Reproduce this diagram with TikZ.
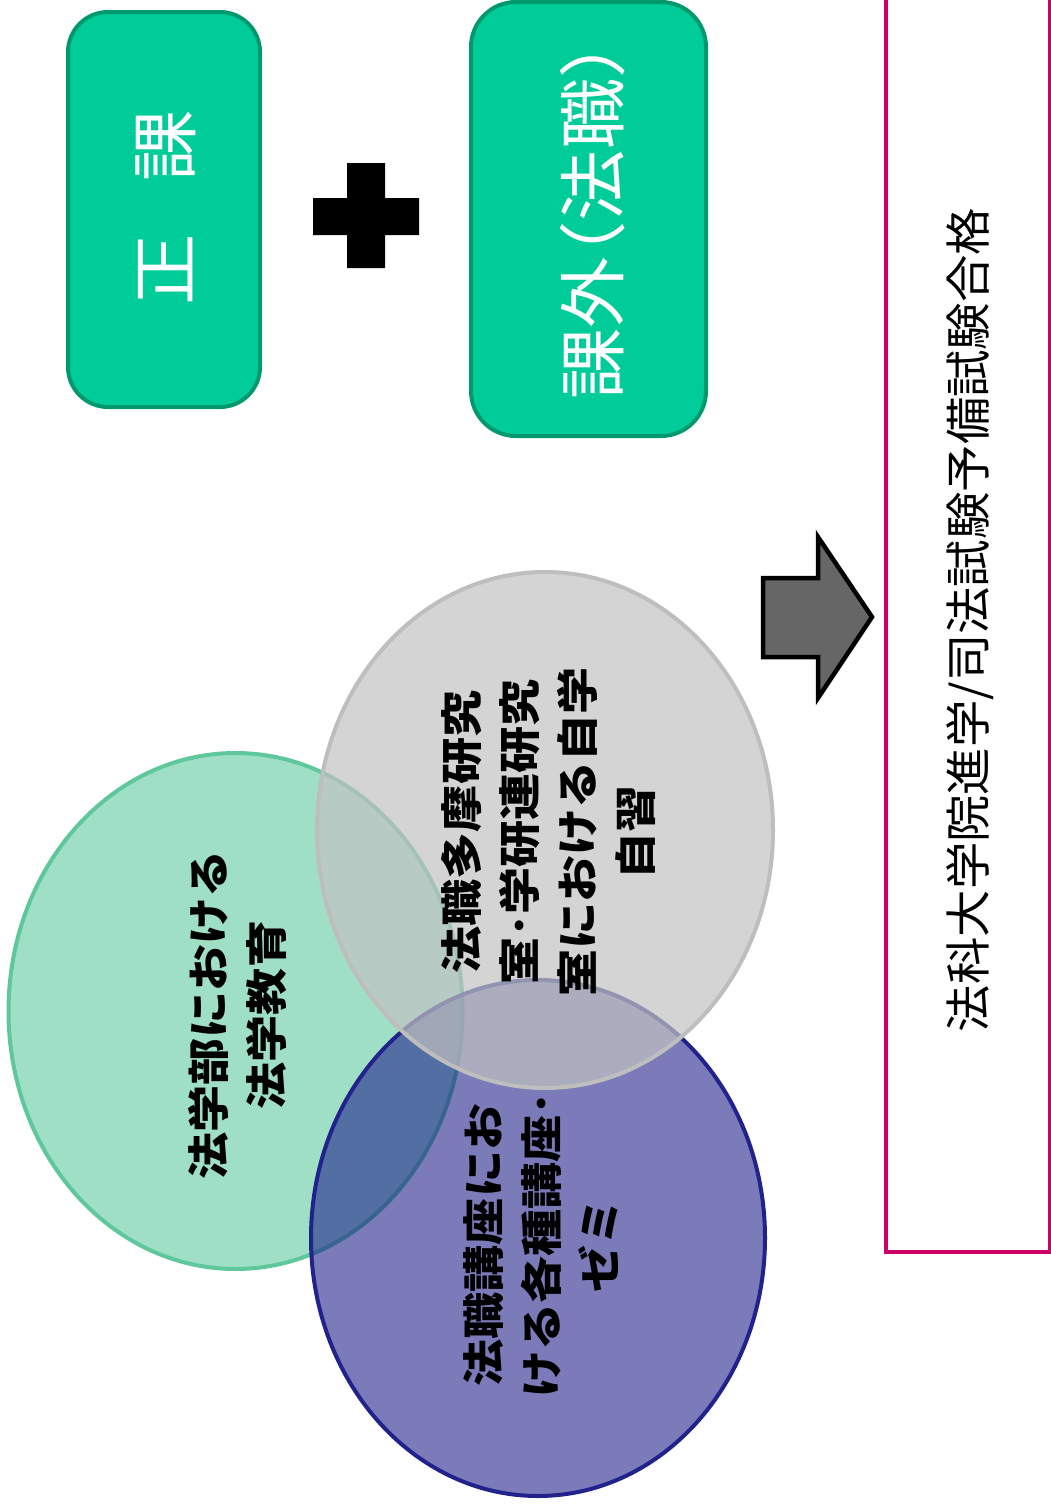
\documentclass[tikz,border=0pt]{standalone}
\usepackage{fontspec}
\setmainfont{Noto Sans CJK JP}
\newfontfamily\jphalt[RawFeature=+halt]{Noto Sans CJK JP}
\definecolor{boxgreen}{HTML}{00CC99}
\definecolor{boxgreenline}{HTML}{00996E}
\definecolor{circgreen}{HTML}{9FDFC6}
\definecolor{circgreenline}{HTML}{5EC89C}
\definecolor{circgray}{HTML}{C2C2C2}
\definecolor{circgrayline}{HTML}{BEBEBE}
\definecolor{circpurple}{HTML}{1D1D89}
\definecolor{circpurpleline}{HTML}{22228C}
\definecolor{arrowgray}{HTML}{666666}
\definecolor{magentaline}{HTML}{CC0066}
\begin{document}
\begin{tikzpicture}[x=1pt,y=1pt,
  greenbox/.style={draw=boxgreenline,fill=boxgreen,line width=4pt,rounded corners=40pt},
  boxtext/.style={text=white,inner sep=0pt,font=\fontsize{68}{68}\selectfont,yscale=1.05,rotate=90},
  circtext/.style={text=black,inner sep=0pt,align=center,font=\bfseries\fontsize{42}{58}\selectfont,yscale=1.12,rotate=90},
  goaltext/.style={text=black,inner sep=0pt,font=\fontsize{46}{46}\selectfont,yscale=1.03,rotate=90}]
\useasboundingbox (0,0) rectangle (1051,-1507);
\clip (0,0) rectangle (1051,-1507);
\fill[white] (0,0) rectangle (1051,-1507);
% top boxes
\draw[greenbox] (68,-12) rectangle (260,-407);
\draw[greenbox,rounded corners=45pt] (471,-2) rectangle (706,-436);
\fill[black] (347,-163) -- (385,-163) -- (385,-198) -- (419,-198) -- (419,-235) -- (385,-235)
  -- (385,-268) -- (347,-268) -- (347,-235) -- (313,-235) -- (313,-198) -- (347,-198) -- cycle;
\node (seika) at (166,-208) [boxtext] {正\hspace{50pt}課};
\node (kagai) at (593,-221) [boxtext,font=\jphalt\fontsize{68}{68}\selectfont] {課外（法職）};
% circles
\draw[draw=circgreenline,fill=circgreen,line width=4pt] (235.5,-1011) ellipse [x radius=227, y radius=258];
\fill[circpurple,fill opacity=0.58] (538,-1238) ellipse [x radius=227, y radius=258];
\draw[draw=circpurpleline,line width=4pt] (538,-1238) ellipse [x radius=227, y radius=258];
\fill[circgray,fill opacity=0.7] (545,-830) ellipse [x radius=228, y radius=258];
\draw[draw=circgrayline,line width=4pt] (545,-830) ellipse [x radius=228, y radius=258];
\node (lawfac) at (238,-1015) [circtext] {法学部における\\法学教育};
\node (study) at (548,-832) [circtext] {法職多摩研究\\室･学研連研究\\室における自学\\自習};
\node (lecture) at (541,-1245) [circtext] {法職講座にお\\ける各種講座･\\ゼミ};
% arrow
\draw[fill=arrowgray,draw=black,line width=4.5pt,line join=miter]
  (763,-578) -- (818,-578) -- (818,-537) -- (872,-617) -- (818,-698) -- (818,-657) -- (763,-657) -- cycle;
% goal box
\draw[draw=magentaline,fill=white,line width=4pt] (885.5,20) rectangle (1050,-1252);
\node (goal) at (970,-620) [goaltext] {法科大学院進学/司法試験予備試験合格};
\end{tikzpicture}
\end{document}
